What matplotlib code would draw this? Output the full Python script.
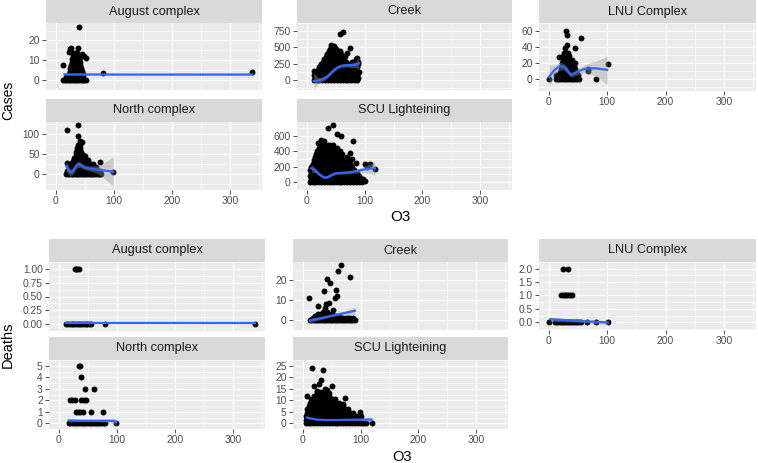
import matplotlib
matplotlib.use("Agg")
import matplotlib.pyplot as plt

plt.rcParams["font.family"] = ["Liberation Sans", "DejaVu Sans"]

FIG_W, FIG_H = 758, 463
XLIM = (-16.9, 354.9)
X_TICKS = [0, 100, 200, 300]

PANEL_BG = "#EBEBEB"
STRIP_BG = "#D9D9D9"
SMOOTH_COLOR = "#3366FF"

# Dense clouds are kept as rows: (y value, x values read along that row),
# isolated points as plain x / y lists.

# ---------------- Cases ----------------
AUG_CASES_ROWS = [
    (0, [13, 16, 19, 22, 25, 28, 31, 34, 37, 40, 43, 46, 49, 52]),
    (1.5, [18, 23, 26, 29, 32, 35, 38, 41, 44, 47]),
    (3, [22, 25, 28, 31, 34, 37, 40, 43, 46]),
    (4.5, [24, 27, 30, 33, 36, 39, 42, 45]),
    (6, [25, 28, 31, 34, 37, 40, 43]),
    (7.5, [26, 29, 32, 35, 38, 41]),
    (9, [27, 30, 33, 36, 39, 42]),
    (10.5, [28, 31, 34, 37, 40]),
    (12, [29, 32, 35, 38, 41, 45]),
    (13.5, [30, 33, 36]),
]
AUG_CASES_X = [24, 22, 38.6, 26, 45, 51.6, 13, 81, 39.7, 338, 48]
AUG_CASES_Y = [15.5, 14, 16, 16, 13, 11, 7.8, 3.8, 27, 4, 12]
AUG_CASES_FIT_X = [15, 100, 200, 338]
AUG_CASES_FIT_Y = [2.9, 2.8, 2.8, 2.8]
AUG_CASES_LO = [2.4, 2.5, 2.4, 2.2]
AUG_CASES_HI = [3.4, 3.1, 3.2, 3.4]

NORTH_CASES_ROWS = [
    (0, [18, 21, 24, 27, 30, 33, 36, 39, 42, 45, 48, 51, 54, 57, 60, 63, 66, 69, 72, 75, 78]),
    (8, [20, 24, 28, 32, 36, 40, 44, 48, 52, 56, 60, 64, 68, 72, 76]),
    (16, [22, 26, 30, 34, 38, 42, 46, 50, 54, 58, 62, 66, 70]),
    (24, [24, 28, 32, 36, 40, 44, 48, 52, 58, 64]),
    (32, [30, 34, 38, 42, 46, 50]),
    (40, [32, 36, 40, 44, 48]),
    (48, [34, 38, 42, 46]),
    (56, [35, 39, 43]),
    (64, [37, 41]),
    (72, [38, 42]),
]
NORTH_CASES_X = [18.7, 38.6, 37.5, 45, 99, 42, 20, 76, 50, 55]
NORTH_CASES_Y = [111, 124, 96, 80, 3.5, 82, 28, 30, 45, 35]
NORTH_CASES_FIT_X = [18, 22, 26, 30, 34, 38, 42, 46, 50, 55, 60, 70, 80, 90, 99]
NORTH_CASES_FIT_Y = [20, 8, 3, 8, 18, 24, 23, 19, 16, 14, 13, 11, 9, 7, 5]
NORTH_CASES_LO = [8, -2, -6, 0, 10, 16, 16, 13, 10, 8, 6, 2, -8, -20, -33]
NORTH_CASES_HI = [32, 18, 12, 16, 26, 32, 30, 25, 22, 20, 20, 20, 26, 34, 43]

CREEK_CASES_ROWS = [
    (0, [12, 17, 22, 27, 32, 37, 42, 47, 52, 57, 62, 67, 72, 77, 82, 87]),
    (40, [14, 19, 24, 29, 34, 39, 44, 49, 54, 59, 64, 69, 74, 79, 84, 89]),
    (80, [12, 17, 22, 27, 32, 37, 42, 47, 52, 57, 62, 67, 72, 77, 82, 87]),
    (120, [16, 21, 26, 31, 36, 41, 46, 51, 56, 61, 66, 71, 76, 81, 86, 90]),
    (160, [20, 25, 30, 35, 40, 45, 50, 55, 60, 65, 70, 75, 80, 85]),
    (200, [22, 27, 32, 37, 42, 47, 52, 57, 62, 67, 72, 77, 82, 87]),
    (240, [25, 30, 35, 40, 45, 50, 55, 60, 65, 70, 75, 80, 85, 89]),
    (280, [28, 33, 38, 43, 48, 53, 58, 63, 68, 78, 84, 88]),
    (320, [30, 35, 40, 45, 50, 55, 60, 65, 85]),
    (360, [33, 38, 43, 48, 53, 58, 63]),
    (400, [35, 40, 45, 50, 55, 60]),
    (440, [38, 43, 48, 53, 58]),
    (480, [40, 45, 50]),
]
CREEK_CASES_X = [63.5, 57.8, 75, 41.7, 13, 86, 66, 47, 70]
CREEK_CASES_Y = [744, 707, 485, 532, 141, 344, 368, 520, 420]
CREEK_CASES_FIT_X = [12, 20, 28, 36, 44, 52, 60, 68, 76, 84, 90]
CREEK_CASES_FIT_Y = [-15, -5, 15, 60, 130, 190, 220, 228, 228, 235, 255]
CREEK_CASES_LO = [-140, -50, -20, 30, 105, 165, 195, 200, 195, 190, 170]
CREEK_CASES_HI = [110, 40, 50, 90, 155, 215, 245, 256, 262, 280, 340]

SCU_CASES_ROWS = [
    (0, [5, 10, 15, 20, 25, 30, 35, 40, 45, 50, 55, 60, 65, 70, 75, 80, 85, 90, 95]),
    (40, [7, 12, 17, 22, 27, 32, 37, 42, 47, 52, 57, 62, 67, 72, 77, 82, 87, 97]),
    (80, [5, 10, 15, 20, 25, 30, 35, 40, 45, 50, 55, 60, 65, 70, 75, 80, 85, 90]),
    (120, [7, 12, 17, 22, 27, 32, 37, 42, 47, 52, 57, 62, 67, 72, 77, 82, 87]),
    (160, [6, 11, 16, 21, 26, 31, 36, 41, 46, 51, 56, 61, 66, 71, 76, 81]),
    (200, [8, 13, 18, 23, 28, 33, 38, 43, 48, 53, 58, 63, 68, 73, 78]),
    (240, [10, 15, 20, 25, 30, 35, 40, 45, 50, 55, 60, 65, 70, 75]),
    (280, [12, 17, 22, 27, 32, 37, 42, 47, 52, 57, 62, 67, 72]),
    (320, [14, 19, 24, 29, 34, 39, 44, 49, 54, 59, 69]),
    (360, [16, 21, 26, 31, 36, 41, 46, 51, 56, 61]),
    (400, [18, 23, 28, 33, 38, 43, 48, 53, 58]),
    (440, [22, 27, 32, 37, 42, 47, 52]),
    (480, [26, 31, 36, 41, 46]),
]
SCU_CASES_X = [45, 37, 25, 30, 60, 52, 20, 80, 75, 78, 85, 100, 105, 110, 118, 95, 100, 92]
SCU_CASES_Y = [735, 700, 540, 530, 600, 620, 510, 530, 380, 300, 250, 235, 200, 230, 170, 30, 20, 60]
SCU_CASES_FIT_X = [8, 15, 22, 30, 36, 42, 50, 60, 70, 80, 90, 100, 110, 118]
SCU_CASES_FIT_Y = [180, 150, 100, 60, 65, 90, 115, 120, 125, 135, 150, 165, 175, 180]
SCU_CASES_LO = [130, 120, 80, 45, 50, 75, 100, 105, 108, 115, 120, 120, 110, 90]
SCU_CASES_HI = [230, 180, 120, 75, 80, 105, 130, 135, 142, 155, 180, 210, 240, 270]

LNU_CASES_ROWS = [
    (0, [0, 12, 15, 18, 21, 24, 27, 30, 33, 36, 39, 42, 45, 48, 51, 80.6]),
    (4, [17, 20, 23, 26, 29, 32, 35, 38, 41, 44, 47, 50]),
    (8, [19, 22, 25, 28, 31, 34, 37, 40, 43, 46]),
    (12, [20, 23, 26, 29, 32, 35, 38, 41, 44]),
    (16, [22, 25, 28, 31, 34, 37, 40, 43]),
    (20, [23, 26, 29, 32, 35, 38, 41]),
    (24, [24, 27, 30, 33, 36, 40]),
    (28, [25, 28, 31, 34]),
    (32, [26, 29, 32]),
]
LNU_CASES_X = [29.5, 31, 55, 44, 28, 31, 100.5, 67, 67, 18, 12, 45]
LNU_CASES_Y = [60, 55.5, 51.6, 38, 38, 42, 17.9, 9.8, 12, 27, 5, 20]
LNU_CASES_FIT_X = [0, 5, 10, 15, 20, 25, 30, 35, 38, 42, 50, 60, 70, 80, 90, 100]
LNU_CASES_FIT_Y = [2, 7, 11, 14, 16, 15, 12, 7, 5, 6, 9, 12, 13, 13, 12, 11]
LNU_CASES_LO = [-12, -3, 4, 9, 11, 11, 8, 4, 2, 3, 5, 7, 6, 3, -2, -8]
LNU_CASES_HI = [18, 17, 18, 19, 21, 19, 16, 10, 8, 9, 13, 17, 20, 22, 25, 28]

# ---------------- Deaths ----------------
AUG_DEATHS_ROWS = [
    (0, [13, 16, 19, 22, 25, 28, 31, 34, 37, 40, 43, 46, 49, 52, 55, 80, 338]),
    (1, [28, 30, 32, 34]),
]
AUG_DEATHS_X = []
AUG_DEATHS_Y = []
AUG_DEATHS_FIT_X = [13, 100, 200, 338]
AUG_DEATHS_FIT_Y = [0.02, 0.02, 0.02, 0.02]
AUG_DEATHS_LO = [0.01, 0.015, 0.01, 0.005]
AUG_DEATHS_HI = [0.03, 0.025, 0.03, 0.035]

NORTH_DEATHS_ROWS = [
    (0, [17, 20, 23, 26, 29, 32, 35, 38, 41, 44, 47, 50, 53, 56, 59, 62, 65, 68, 71, 74, 77, 80, 99]),
    (1, [29, 33, 37, 41, 55, 76]),
    (2, [19, 23, 27, 39, 43, 47]),
    (3, [45, 60]),
    (4, [39]),
    (5, [34, 37]),
]
NORTH_DEATHS_X = []
NORTH_DEATHS_Y = []
NORTH_DEATHS_FIT_X = [17, 40, 60, 80, 95, 99]
NORTH_DEATHS_FIT_Y = [0.25, 0.22, 0.22, 0.22, 0.2, 0.1]
NORTH_DEATHS_LO = [0.1, 0.15, 0.15, 0.1, -0.05, -0.2]
NORTH_DEATHS_HI = [0.4, 0.3, 0.3, 0.35, 0.45, 0.4]

CREEK_DEATHS_ROWS = [
    (0, [12, 15, 18, 21, 24, 27, 30, 33, 36, 39, 42, 45, 48, 51, 54, 57, 60, 63, 66, 69,
         72, 75, 78, 81, 84, 87, 90]),
    (1, [18, 22, 26, 30, 34, 38, 42, 46, 50, 54, 58, 62, 66, 70, 74, 78, 82, 86]),
    (2, [22, 27, 32, 37, 42, 47, 52, 57, 62]),
    (3, [26, 32, 38, 44, 50]),
]
CREEK_DEATHS_X = [66, 61, 42, 47, 81.5, 11, 36.7, 57, 59, 40, 45, 27, 55, 52, 38, 35, 42]
CREEK_DEATHS_Y = [27.6, 24.4, 20.5, 18.4, 21.3, 11, 14.4, 14.7, 12, 8, 8.5, 7, 11, 5, 6, 4, 4]
CREEK_DEATHS_FIT_X = [12, 30, 50, 70, 90]
CREEK_DEATHS_FIT_Y = [-0.3, 0.85, 2.1, 3.35, 4.6]
CREEK_DEATHS_LO = [-1.5, 0.1, 1.6, 2.6, 2.8]
CREEK_DEATHS_HI = [0.9, 1.6, 2.6, 4.1, 6.4]

SCU_DEATHS_ROWS = [
    (0, [5, 10, 15, 20, 25, 30, 35, 40, 45, 50, 55, 60, 65, 70, 75, 80, 85, 90, 95, 100,
         105, 110, 119]),
    (1.5, [6, 11, 16, 21, 26, 31, 36, 41, 46, 51, 56, 61, 66, 71, 76, 81, 86, 91, 96]),
    (3, [5, 10, 15, 20, 25, 30, 35, 40, 45, 50, 55, 60, 65, 70, 75, 80, 85, 90, 95]),
    (4.5, [7, 12, 17, 22, 27, 32, 37, 42, 47, 52, 57, 62, 67, 72, 77, 82, 87]),
    (6, [8, 13, 18, 23, 28, 33, 38, 43, 48, 53, 58, 63, 68, 73, 78]),
    (7.5, [10, 15, 20, 25, 30, 35, 40, 45, 50, 55, 60, 65, 70]),
    (9, [12, 17, 22, 27, 32, 37, 42, 47, 52, 57, 62]),
    (10.5, [15, 20, 25, 30, 35, 40, 45, 50, 55]),
    (12, [20, 25, 30, 35, 40, 45]),
    (13.5, [25, 30, 35, 40]),
]
SCU_DEATHS_X = [15.5, 34.3, 31, 50, 7, 72.5, 98.5, 28, 38, 42, 20, 25, 45, 70, 100]
SCU_DEATHS_Y = [24.1, 23, 18.7, 16.3, 12, 11, 4.7, 17, 15, 14.5, 16, 14, 13, 8.5, 3]
SCU_DEATHS_FIT_X = [7, 15, 25, 40, 60, 80, 100, 119]
SCU_DEATHS_FIT_Y = [2.5, 2.0, 1.6, 1.4, 1.4, 1.5, 1.6, 1.6]
SCU_DEATHS_LO = [2.0, 1.7, 1.4, 1.2, 1.2, 1.2, 1.1, 0.6]
SCU_DEATHS_HI = [3.0, 2.3, 1.8, 1.6, 1.6, 1.8, 2.1, 2.6]

LNU_DEATHS_ROWS = [
    (0, [0, 10, 13, 16, 19, 22, 25, 28, 31, 34, 37, 40, 43, 46, 49, 52, 55, 65, 80, 101]),
    (1, [21, 24, 27, 30, 33, 36, 39]),
    (2, [25, 33]),
]
LNU_DEATHS_X = []
LNU_DEATHS_Y = []
LNU_DEATHS_FIT_X = [2, 50, 101]
LNU_DEATHS_FIT_Y = [0.11, 0.05, -0.01]
LNU_DEATHS_LO = [0.02, 0.0, -0.09]
LNU_DEATHS_HI = [0.2, 0.1, 0.07]


def expand(rows, extra_x, extra_y):
    xs, ys = [], []
    for y, row in rows:
        xs += row
        ys += [y] * len(row)
    return xs + list(extra_x), ys + list(extra_y)


def px_axes(fig, x0, y0, x1, y1):
    return fig.add_axes([x0 / FIG_W, 1 - y1 / FIG_H, (x1 - x0) / FIG_W, (y1 - y0) / FIG_H])


def draw_panel(fig, box, title, points, fit, ylim, yticks, ylabels, show_x):
    x0, y0, x1, y1 = box
    xs, ys = points
    fit_x, fit_y, lo, hi = fit

    strip = px_axes(fig, x0, y0 - 23, x1, y0)
    strip.set_facecolor(STRIP_BG)
    strip.set_xticks([])
    strip.set_yticks([])
    for s in strip.spines.values():
        s.set_visible(False)
    strip.text(0.5, 0.5, title, ha="center", va="center", fontsize=9.2,
               color="#1A1A1A", transform=strip.transAxes)

    ax = px_axes(fig, x0, y0, x1, y1)
    ax.set_facecolor(PANEL_BG)
    for s in ax.spines.values():
        s.set_visible(False)
    ax.set_xlim(*XLIM)
    ax.set_ylim(*ylim)
    ax.set_xticks(X_TICKS)
    ax.set_xticks([50, 150, 250, 350], minor=True)
    ax.set_yticks(yticks)
    ax.set_yticklabels(ylabels)
    step = yticks[1] - yticks[0]
    mids = [t - step / 2 for t in yticks] + [yticks[-1] + step / 2]
    ax.set_yticks(mids, minor=True)
    ax.grid(True, which="major", color="white", linewidth=0.85)
    ax.grid(True, which="minor", color="white", linewidth=0.45)
    ax.set_axisbelow(True)
    ax.tick_params(which="minor", length=0)
    ax.tick_params(which="major", length=3, width=0.6, color="#333333",
                   labelcolor="#4D4D4D", labelsize=7.4, pad=1.5)
    if not show_x:
        ax.tick_params(axis="x", which="major", length=0, labelbottom=False)

    ax.scatter(xs, ys, s=18, color="black", linewidths=0, zorder=2)
    ax.fill_between(fit_x, lo, hi, color="#999999", alpha=0.4, linewidth=0, zorder=3)
    ax.plot(fit_x, fit_y, color=SMOOTH_COLOR, linewidth=1.6, zorder=4)
    return ax


def main():
    fig = plt.figure(figsize=(FIG_W / 100, FIG_H / 100), dpi=100)

    # Cases (top block)
    draw_panel(fig, (46, 23, 262, 90), "August complex",
               expand(AUG_CASES_ROWS, AUG_CASES_X, AUG_CASES_Y),
               (AUG_CASES_FIT_X, AUG_CASES_FIT_Y, AUG_CASES_LO, AUG_CASES_HI),
               (-1.4, 28.8), [0, 10, 20], ["0", "10", "20"], False)
    draw_panel(fig, (297, 23, 512, 90), "Creek",
               expand(CREEK_CASES_ROWS, CREEK_CASES_X, CREEK_CASES_Y),
               (CREEK_CASES_FIT_X, CREEK_CASES_FIT_Y, CREEK_CASES_LO, CREEK_CASES_HI),
               (-151, 797), [0, 250, 500, 750], ["0", "250", "500", "750"], False)
    draw_panel(fig, (539, 23, 756, 91), "LNU Complex",
               expand(LNU_CASES_ROWS, LNU_CASES_X, LNU_CASES_Y),
               (LNU_CASES_FIT_X, LNU_CASES_FIT_Y, LNU_CASES_LO, LNU_CASES_HI),
               (-15.5, 63.5), [0, 20, 40, 60], ["0", "20", "40", "60"], True)
    draw_panel(fig, (46, 122, 262, 190), "North complex",
               expand(NORTH_CASES_ROWS, NORTH_CASES_X, NORTH_CASES_Y),
               (NORTH_CASES_FIT_X, NORTH_CASES_FIT_Y, NORTH_CASES_LO, NORTH_CASES_HI),
               (-41, 131), [0, 50, 100], ["0", "50", "100"], True)
    draw_panel(fig, (297, 122, 512, 190), "SCU Lighteining",
               expand(SCU_CASES_ROWS, SCU_CASES_X, SCU_CASES_Y),
               (SCU_CASES_FIT_X, SCU_CASES_FIT_Y, SCU_CASES_LO, SCU_CASES_HI),
               (-37, 775), [0, 200, 400, 600], ["0", "200", "400", "600"], True)

    # Deaths (bottom block)
    draw_panel(fig, (49, 262, 265, 331), "August complex",
               expand(AUG_DEATHS_ROWS, AUG_DEATHS_X, AUG_DEATHS_Y),
               (AUG_DEATHS_FIT_X, AUG_DEATHS_FIT_Y, AUG_DEATHS_LO, AUG_DEATHS_HI),
               (-0.07, 1.05), [0, 0.25, 0.5, 0.75, 1.0],
               ["0.00", "0.25", "0.50", "0.75", "1.00"], False)
    draw_panel(fig, (293, 262, 508, 330), "Creek",
               expand(CREEK_DEATHS_ROWS, CREEK_DEATHS_X, CREEK_DEATHS_Y),
               (CREEK_DEATHS_FIT_X, CREEK_DEATHS_FIT_Y, CREEK_DEATHS_LO, CREEK_DEATHS_HI),
               (-3.3, 28.9), [0, 10, 20], ["0", "10", "20"], False)
    draw_panel(fig, (539, 262, 756, 330), "LNU Complex",
               expand(LNU_DEATHS_ROWS, LNU_DEATHS_X, LNU_DEATHS_Y),
               (LNU_DEATHS_FIT_X, LNU_DEATHS_FIT_Y, LNU_DEATHS_LO, LNU_DEATHS_HI),
               (-0.29, 2.1), [0, 0.5, 1.0, 1.5, 2.0],
               ["0.0", "0.5", "1.0", "1.5", "2.0"], True)
    draw_panel(fig, (49, 360, 265, 429), "North complex",
               expand(NORTH_DEATHS_ROWS, NORTH_DEATHS_X, NORTH_DEATHS_Y),
               (NORTH_DEATHS_FIT_X, NORTH_DEATHS_FIT_Y, NORTH_DEATHS_LO, NORTH_DEATHS_HI),
               (-0.3, 5.26), [0, 1, 2, 3, 4, 5], ["0", "1", "2", "3", "4", "5"], True)
    draw_panel(fig, (293, 360, 508, 429), "SCU Lighteining",
               expand(SCU_DEATHS_ROWS, SCU_DEATHS_X, SCU_DEATHS_Y),
               (SCU_DEATHS_FIT_X, SCU_DEATHS_FIT_Y, SCU_DEATHS_LO, SCU_DEATHS_HI),
               (-2.3, 25.4), [0, 5, 10, 15, 20, 25], ["0", "5", "10", "15", "20", "25"], True)

    # axis titles
    fig.text(8 / FIG_W, 1 - 100 / FIG_H, "Cases", rotation=90, ha="center", va="center",
             fontsize=10)
    fig.text(400 / FIG_W, 1 - 217 / FIG_H, "O3", ha="center", va="center", fontsize=11)
    fig.text(8 / FIG_W, 1 - 345 / FIG_H, "Deaths", rotation=90, ha="center", va="center",
             fontsize=10.5)
    fig.text(402 / FIG_W, 1 - 457 / FIG_H, "O3", ha="center", va="center", fontsize=10.5)

    fig.savefig("out.png", dpi=100)


if __name__ == "__main__":
    main()
